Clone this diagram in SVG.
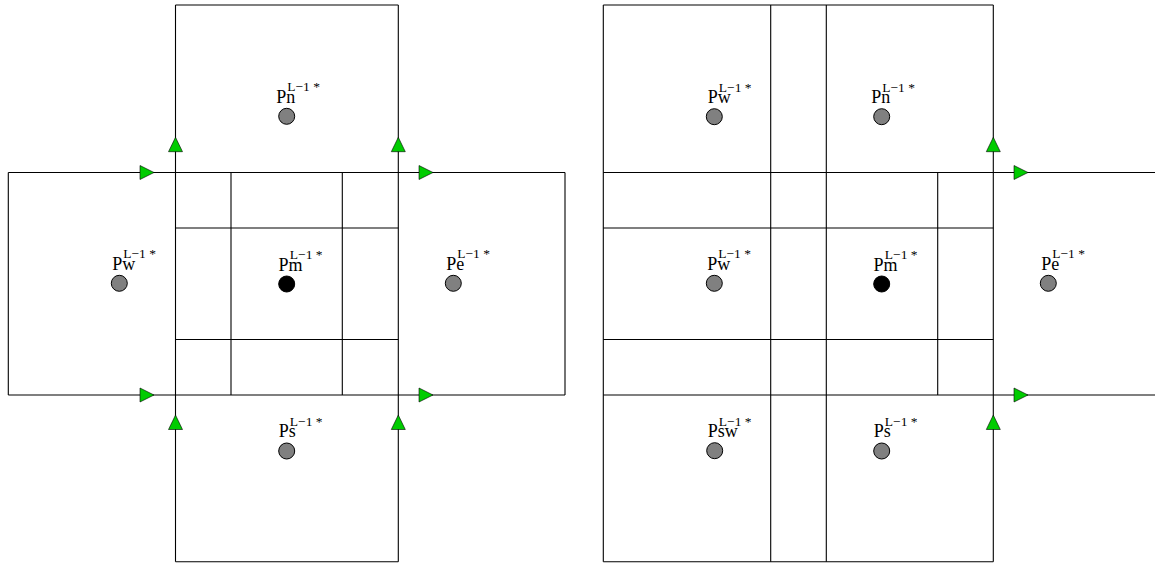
<svg xmlns="http://www.w3.org/2000/svg" xmlns:xlink="http://www.w3.org/1999/xlink" width="1155" height="563" viewBox="0 0 1155 563">
<style>
  .ln { stroke: #000; stroke-width: 1.1; fill: none; }
  .pt { fill: #808080; stroke: #000; stroke-width: 1; }
  .pm { fill: #000; stroke: #000; stroke-width: 1; }
  .lbl { font-family: "Liberation Serif", "Times New Roman", serif; font-size: 18px; fill: #000; }
  .sup { font-size: 13.5px; }
  .arr { fill: #00cc00; stroke: #000; stroke-width: 0.6; }
</style>
<defs>
  <polygon id="arR" class="arr" points="0,-7 14,0 0,7"/>
  <polygon id="arU" class="arr" points="-7,0 0,-14.4 7,0"/>
</defs>
<rect width="1155" height="563" fill="#fff"/>

<g id="grid-left" class="ln">
  <line x1="175.5" y1="5" x2="398.3" y2="5"/>
  <line x1="175.5" y1="5" x2="175.5" y2="561.7"/>
  <line x1="398.3" y1="5" x2="398.3" y2="561.7"/>
  <line x1="175.5" y1="561.7" x2="398.3" y2="561.7"/>
  <line x1="8.3" y1="172.5" x2="565" y2="172.5"/>
  <line x1="8.3" y1="395" x2="565" y2="395"/>
  <line x1="8.3" y1="172.5" x2="8.3" y2="395"/>
  <line x1="565" y1="172.5" x2="565" y2="395"/>
  <line x1="231" y1="172.5" x2="231" y2="395"/>
  <line x1="342.3" y1="172.5" x2="342.3" y2="395"/>
  <line x1="175.5" y1="228" x2="398.3" y2="228"/>
  <line x1="175.5" y1="339.5" x2="398.3" y2="339.5"/>
</g>

<g id="grid-right" class="ln">
  <line x1="603.3" y1="5" x2="993.3" y2="5"/>
  <line x1="603.3" y1="561.7" x2="993.3" y2="561.7"/>
  <line x1="603.3" y1="5" x2="603.3" y2="561.7"/>
  <line x1="770.7" y1="5" x2="770.7" y2="561.7"/>
  <line x1="826.3" y1="5" x2="826.3" y2="561.7"/>
  <line x1="993.3" y1="5" x2="993.3" y2="561.7"/>
  <line x1="937.7" y1="172.5" x2="937.7" y2="395"/>
  <line x1="603.3" y1="172.5" x2="1155" y2="172.5"/>
  <line x1="603.3" y1="395" x2="1155" y2="395"/>
  <line x1="603.3" y1="228" x2="993.3" y2="228"/>
  <line x1="603.3" y1="339.5" x2="993.3" y2="339.5"/>
</g>

<g id="connectors">
  <use xlink:href="#arR" x="140" y="172.5"/>
  <use xlink:href="#arR" x="419" y="172.5"/>
  <use xlink:href="#arR" x="140" y="395"/>
  <use xlink:href="#arR" x="419" y="395"/>
  <use xlink:href="#arU" x="175.5" y="151.7"/>
  <use xlink:href="#arU" x="398.3" y="151.7"/>
  <use xlink:href="#arU" x="175.5" y="429.5"/>
  <use xlink:href="#arU" x="398.3" y="429.5"/>
  <use xlink:href="#arR" x="1014" y="172.5"/>
  <use xlink:href="#arR" x="1014" y="395"/>
  <use xlink:href="#arU" x="993.3" y="151.7"/>
  <use xlink:href="#arU" x="993.3" y="429.5"/>
</g>

<g id="L-Pn">
  <circle class="pt" cx="286.7" cy="116.3" r="8"/>
  <text class="lbl" x="276.2" y="102.9">Pn<tspan class="sup" x="287.2" y="91.3">L−1 *</tspan></text>
</g>
<g id="L-Pw">
  <circle class="pt" cx="119.3" cy="283.3" r="8"/>
  <text class="lbl" x="112.2" y="270">Pw<tspan class="sup" x="123.2" y="258.3">L−1 *</tspan></text>
</g>
<g id="L-Pm">
  <circle class="pm" cx="286.7" cy="284" r="8"/>
  <text class="lbl" x="278.5" y="270.5">Pm<tspan class="sup" x="289.8" y="259">L−1 *</tspan></text>
</g>
<g id="L-Pe">
  <circle class="pt" cx="453.3" cy="283.3" r="8"/>
  <text class="lbl" x="446.2" y="270">Pe<tspan class="sup" x="457.2" y="258.3">L−1 *</tspan></text>
</g>
<g id="L-Ps">
  <circle class="pt" cx="286.7" cy="451" r="8"/>
  <text class="lbl" x="278.8" y="437.2">Ps<tspan class="sup" x="289.8" y="426">L−1 *</tspan></text>
</g>

<g id="R-Pw-top">
  <circle class="pt" cx="714.3" cy="116.7" r="8"/>
  <text class="lbl" x="707.8" y="103.2">Pw<tspan class="sup" x="718.8" y="91.7">L−1 *</tspan></text>
</g>
<g id="R-Pn">
  <circle class="pt" cx="881.7" cy="116.7" r="8"/>
  <text class="lbl" x="871.2" y="103.2">Pn<tspan class="sup" x="882.2" y="91.7">L−1 *</tspan></text>
</g>
<g id="R-Pw">
  <circle class="pt" cx="714.3" cy="283.3" r="8"/>
  <text class="lbl" x="707.2" y="270">Pw<tspan class="sup" x="718.2" y="258.3">L−1 *</tspan></text>
</g>
<g id="R-Pm">
  <circle class="pm" cx="881.7" cy="284" r="8"/>
  <text class="lbl" x="873.5" y="270.5">Pm<tspan class="sup" x="884.8" y="259">L−1 *</tspan></text>
</g>
<g id="R-Pe">
  <circle class="pt" cx="1048.3" cy="283.3" r="8"/>
  <text class="lbl" x="1041.2" y="270">Pe<tspan class="sup" x="1052.2" y="258.3">L−1 *</tspan></text>
</g>
<g id="R-Psw">
  <circle class="pt" cx="714.7" cy="450.7" r="8"/>
  <text class="lbl" x="707.8" y="437.2">Psw<tspan class="sup" x="718.8" y="426">L−1 *</tspan></text>
</g>
<g id="R-Ps">
  <circle class="pt" cx="881.7" cy="451" r="8"/>
  <text class="lbl" x="873.8" y="437.2">Ps<tspan class="sup" x="884.8" y="426">L−1 *</tspan></text>
</g>
</svg>
